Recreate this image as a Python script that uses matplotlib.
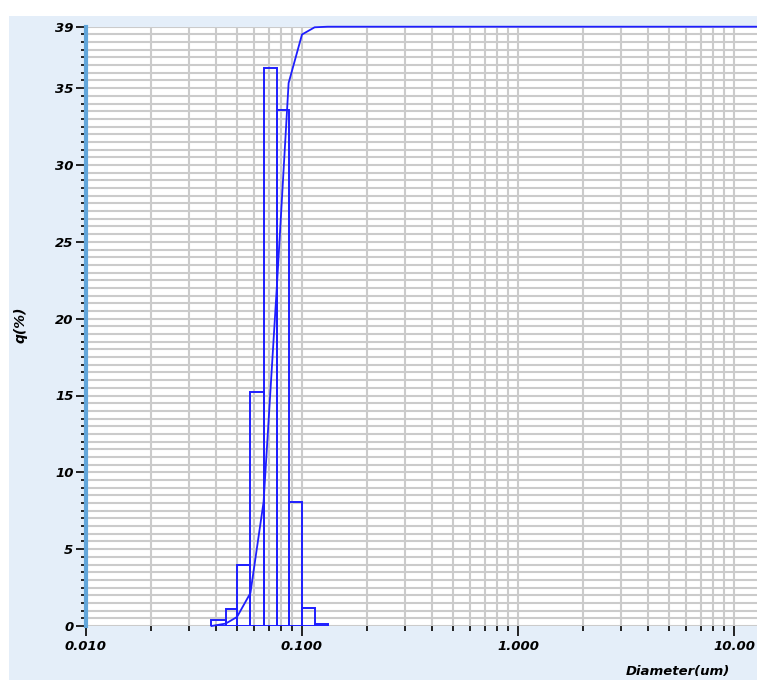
import numpy as np
import matplotlib
matplotlib.use('Agg')
import matplotlib.pyplot as plt
from matplotlib.patches import Rectangle
from matplotlib.ticker import FixedLocator, MultipleLocator, LogLocator, NullFormatter

# Channel edges [um] and frequency q(%) per channel.
edges = [0.0381, 0.0443, 0.0500, 0.0577, 0.0664, 0.0766, 0.0867, 0.1000, 0.1144, 0.1314]
q = [0.4, 1.1, 4.0, 15.2, 36.3, 33.6, 8.1, 1.2, 0.1]

y_ticks = [0, 5, 10, 15, 20, 25, 30, 35, 39]
x_ticks = [0.01, 0.1, 1.0, 10.0]
x_ticklabels = ['0.010', '0.100', '1.000', '10.00']

y_max = 39
x_min, x_max = 0.01, 12.78

blue = '#1e1eff'
font = dict(family='DejaVu Sans', weight='bold', style='italic')

fig = plt.figure(figsize=(7.57, 6.80), dpi=100)
fig.patch.set_facecolor('white')
# light blue panel behind the chart (white strip at top and left)
fig.patches.append(Rectangle((9/757, 0), 1, (680-16)/680, transform=fig.transFigure,
                             facecolor='#e4eef9', edgecolor='none', zorder=-10))

ax = fig.add_axes([86/757, 54/680, 671/757, 599.3/680])
ax.set_facecolor('white')
ax.set_xscale('log')
ax.set_xlim(x_min, x_max)
ax.set_ylim(0, y_max)

# histogram outlines
e = np.array(edges)
ax.bar(e[:-1], q, width=np.diff(e), align='edge', fill=False,
       edgecolor=blue, linewidth=1.4, zorder=3)

# cumulative curve, scaled so 100% sits at the top of the axis
cum = np.concatenate([[0], np.cumsum(q)]) * y_max / 100.0
cum = np.minimum(cum, y_max)
xs = list(edges) + [x_max]
ys = list(cum) + [y_max]
ax.plot(xs, ys, color=blue, linewidth=1.3, zorder=4, clip_on=False)

# grid
ax.yaxis.set_major_locator(FixedLocator(y_ticks))
ax.yaxis.set_minor_locator(MultipleLocator(0.5))
ax.xaxis.set_major_locator(FixedLocator(x_ticks))
ax.xaxis.set_minor_locator(LogLocator(base=10, subs=np.arange(2, 10)))
ax.xaxis.set_minor_formatter(NullFormatter())
ax.grid(which='both', color='#cbcbcb', linewidth=1.5, zorder=0)
ax.set_axisbelow(True)

ax.set_xticklabels(x_ticklabels)
ax.tick_params(axis='both', which='major', length=7, width=1.2, color='black', direction='out')
ax.tick_params(axis='both', which='minor', length=3.5, width=1.2, color='black', direction='out')
ax.tick_params(axis='y', which='major', pad=2)
ax.tick_params(axis='x', which='major', pad=3)
for lab in ax.get_xticklabels() + ax.get_yticklabels():
    lab.set_fontsize(9.5)
    lab.set_fontweight('bold')
    lab.set_fontstyle('italic')

for s in ['top', 'right', 'bottom']:
    ax.spines[s].set_visible(False)
ax.spines['left'].set_color('#62a6da')
ax.spines['left'].set_linewidth(3)

fig.text(20/757, 1 - 325/680, 'q(%)', rotation=90, ha='center', va='center',
         fontsize=10, **font)
fig.text(678/757, 1 - 671/680, 'Diameter(um)', ha='center', va='center',
         fontsize=9.5, **font)

fig.savefig('out.png', dpi=100)
